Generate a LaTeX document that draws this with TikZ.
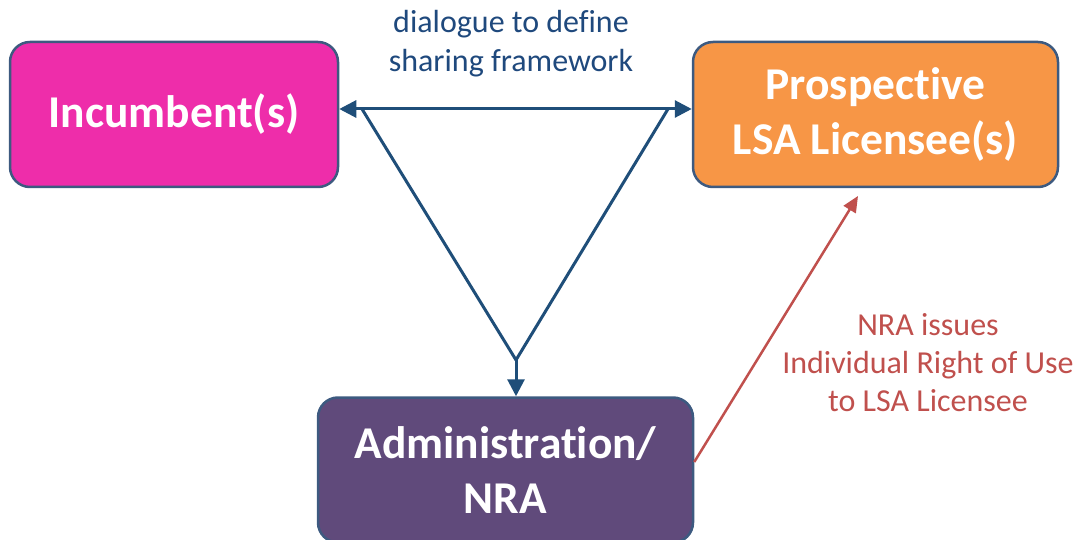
\documentclass[tikz,border=0pt]{standalone}
\usepackage{fontspec}
\setmainfont[Ligatures=NoCommon]{Carlito}
\usetikzlibrary{arrows.meta}
\definecolor{incfill}{HTML}{EE2DAA}
\definecolor{profill}{HTML}{F79646}
\definecolor{admfill}{HTML}{604A7B}
\definecolor{boxline}{HTML}{3D5A80}
\definecolor{linkblue}{HTML}{1F4E79}
\definecolor{txtblue}{HTML}{1F497D}
\definecolor{linkred}{HTML}{C0504D}
\tikzset{
  party/.style={draw=boxline, line width=2.5pt, rounded corners=20pt, text=white,
    font=\fontsize{45.5}{55}\selectfont\bfseries, align=center, inner sep=0pt},
  link/.style={draw=linkblue, line width=3pt},
  tip/.style={-{Triangle[length=17pt,width=17pt]}},
  note/.style={align=center, inner sep=0pt}
}
\begin{document}
\begin{tikzpicture}[x=1pt,y=-1pt]
\useasboundingbox (0,0) rectangle (1076,540);
\node[party, fill=incfill, minimum width=328pt, minimum height=145pt] (inc) at (174,114.5) {Incumbent(s)};
\node[party, fill=profill, minimum width=365pt, minimum height=145pt] (pro) at (875.5,114.5) {Prospective\\LSA Licensee(s)};
\node[party, fill=admfill, minimum width=375pt, minimum height=145pt] (adm) at (505.5,470) {Administration/\\NRA};
\coordinate (h) at (0,109);
\coordinate (la) at (362,109);
\coordinate (ra) at (668,109);
\coordinate (v) at (516,360);
\coordinate (tgt) at (858,196);
\draw[link, {Triangle[length=17pt,width=17pt]}-{Triangle[length=17pt,width=17pt]}] (inc.east |- h) -- (pro.west |- h);
\draw[link, line join=round] (la) -- (v) -- (ra);
\draw[link, tip] (v) -- (adm.north -| v);
\draw[draw=linkred, line width=2.5pt, -{Triangle[length=16pt,width=14pt]}] (adm.east |- 0,462) -- (tgt);
\node[note, text=txtblue, font=\fontsize{32}{39}\selectfont] (dlg) at (511,44) {dialogue to define\\sharing framework};
\node[note, text=linkred, font=\fontsize{32}{38}\selectfont] (iru) at (928,363) {NRA issues\\Individual Right of Use\\to LSA Licensee};
\end{tikzpicture}
\end{document}
